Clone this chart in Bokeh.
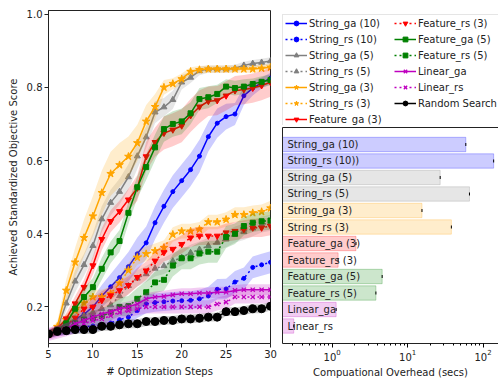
import math
from bokeh.plotting import figure
from bokeh.models import (Range1d, FixedTicker, NumeralTickFormatter, Legend, LegendItem,
                          LinearAxis)
from bokeh.layouts import row, column
from bokeh.embed import file_html
from bokeh.resources import INLINE
from bokeh.core.properties import value

FONT = "DejaVu Sans"

# ---------------- data: optimisation curves (steps 5..30) ----------------
steps = list(range(5, 31))

sga10 = [0.125, 0.135, 0.15, 0.165, 0.18, 0.2, 0.23, 0.255, 0.28, 0.31, 0.345, 0.375, 0.43, 0.475, 0.515, 0.545, 0.575, 0.612, 0.665, 0.702, 0.72, 0.727, 0.777, 0.798, 0.812, 0.825]
sga10_sd = [0.01, 0.01, 0.012, 0.015, 0.02, 0.025, 0.03, 0.035, 0.04, 0.04, 0.045, 0.045, 0.045, 0.045, 0.045, 0.045, 0.045, 0.045, 0.04, 0.04, 0.035, 0.03, 0.025, 0.02, 0.015, 0.015]
srs10 = [0.125, 0.133, 0.138, 0.142, 0.145, 0.148, 0.152, 0.156, 0.165, 0.172, 0.19, 0.208, 0.212, 0.214, 0.216, 0.217, 0.218, 0.222, 0.23, 0.248, 0.249, 0.268, 0.278, 0.308, 0.315, 0.322]
srs10_sd = [0.01, 0.012, 0.015, 0.015, 0.015, 0.015, 0.015, 0.015, 0.018, 0.02, 0.02, 0.025, 0.025, 0.025, 0.025, 0.025, 0.025, 0.025, 0.025, 0.028, 0.028, 0.03, 0.03, 0.03, 0.03, 0.03]
sga5 = [0.125, 0.14, 0.21, 0.27, 0.315, 0.367, 0.44, 0.485, 0.515, 0.555, 0.612, 0.664, 0.732, 0.746, 0.766, 0.814, 0.827, 0.845, 0.85, 0.85, 0.85, 0.852, 0.86, 0.865, 0.868, 0.872]
sga5_sd = [0.01, 0.01, 0.02, 0.03, 0.03, 0.035, 0.035, 0.035, 0.035, 0.035, 0.035, 0.03, 0.03, 0.025, 0.025, 0.02, 0.015, 0.012, 0.01, 0.01, 0.01, 0.01, 0.01, 0.01, 0.01, 0.01]
srs5 = [0.125, 0.135, 0.15, 0.165, 0.175, 0.185, 0.195, 0.205, 0.23, 0.258, 0.278, 0.29, 0.305, 0.312, 0.325, 0.335, 0.348, 0.357, 0.367, 0.376, 0.385, 0.398, 0.405, 0.415, 0.425, 0.43]
srs5_sd = [0.01, 0.012, 0.015, 0.018, 0.02, 0.02, 0.02, 0.02, 0.022, 0.022, 0.022, 0.022, 0.022, 0.022, 0.022, 0.022, 0.022, 0.022, 0.022, 0.022, 0.022, 0.022, 0.022, 0.022, 0.022, 0.022]
sga3 = [0.125, 0.146, 0.245, 0.322, 0.389, 0.448, 0.512, 0.564, 0.588, 0.611, 0.648, 0.707, 0.747, 0.8, 0.81, 0.823, 0.843, 0.848, 0.85, 0.85, 0.85, 0.85, 0.85, 0.85, 0.852, 0.855]
sga3_sd = [0.01, 0.015, 0.03, 0.04, 0.05, 0.055, 0.06, 0.06, 0.06, 0.055, 0.05, 0.045, 0.035, 0.02, 0.015, 0.015, 0.012, 0.01, 0.01, 0.01, 0.01, 0.01, 0.01, 0.01, 0.01, 0.01]
srs3 = [0.125, 0.135, 0.165, 0.19, 0.21, 0.227, 0.227, 0.236, 0.265, 0.3, 0.335, 0.345, 0.353, 0.362, 0.398, 0.407, 0.407, 0.412, 0.432, 0.432, 0.439, 0.452, 0.452, 0.457, 0.46, 0.47]
srs3_sd = [0.01, 0.012, 0.015, 0.018, 0.02, 0.02, 0.02, 0.02, 0.02, 0.02, 0.02, 0.02, 0.02, 0.02, 0.02, 0.02, 0.02, 0.02, 0.02, 0.02, 0.02, 0.02, 0.02, 0.02, 0.02, 0.02]
fga3 = [0.125, 0.14, 0.168, 0.209, 0.254, 0.313, 0.385, 0.434, 0.461, 0.493, 0.525, 0.611, 0.65, 0.675, 0.684, 0.695, 0.723, 0.747, 0.762, 0.764, 0.777, 0.791, 0.794, 0.798, 0.805, 0.814]
fga3_sd = [0.01, 0.01, 0.015, 0.02, 0.02, 0.025, 0.03, 0.03, 0.03, 0.03, 0.035, 0.04, 0.04, 0.045, 0.045, 0.045, 0.045, 0.045, 0.04, 0.04, 0.04, 0.04, 0.04, 0.04, 0.04, 0.04]
frs3 = [0.125, 0.135, 0.15, 0.17, 0.195, 0.2, 0.218, 0.231, 0.245, 0.259, 0.281, 0.299, 0.326, 0.349, 0.358, 0.371, 0.389, 0.394, 0.394, 0.394, 0.403, 0.407, 0.412, 0.416, 0.416, 0.421]
frs3_sd = [0.01, 0.012, 0.015, 0.02, 0.022, 0.025, 0.025, 0.025, 0.025, 0.025, 0.025, 0.025, 0.025, 0.025, 0.025, 0.025, 0.025, 0.025, 0.025, 0.025, 0.025, 0.025, 0.025, 0.025, 0.025, 0.025]
fga5 = [0.125, 0.138, 0.155, 0.195, 0.227, 0.254, 0.304, 0.349, 0.38, 0.457, 0.527, 0.582, 0.636, 0.686, 0.7, 0.707, 0.729, 0.768, 0.773, 0.782, 0.802, 0.798, 0.802, 0.809, 0.815, 0.82]
fga5_sd = [0.01, 0.01, 0.015, 0.02, 0.025, 0.025, 0.03, 0.03, 0.03, 0.03, 0.03, 0.035, 0.035, 0.035, 0.035, 0.035, 0.03, 0.03, 0.03, 0.025, 0.02, 0.02, 0.02, 0.015, 0.015, 0.015]
frs5 = [0.125, 0.135, 0.145, 0.155, 0.165, 0.17, 0.175, 0.185, 0.2, 0.202, 0.222, 0.24, 0.267, 0.274, 0.313, 0.333, 0.333, 0.346, 0.351, 0.351, 0.391, 0.4, 0.421, 0.43, 0.434, 0.436]
frs5_sd = [0.01, 0.012, 0.015, 0.015, 0.018, 0.02, 0.02, 0.022, 0.025, 0.028, 0.03, 0.03, 0.03, 0.03, 0.03, 0.03, 0.03, 0.03, 0.03, 0.03, 0.03, 0.028, 0.025, 0.025, 0.025, 0.025]
lga = [0.125, 0.133, 0.14, 0.154, 0.163, 0.172, 0.181, 0.187, 0.195, 0.2, 0.208, 0.222, 0.227, 0.229, 0.233, 0.236, 0.236, 0.238, 0.238, 0.24, 0.24, 0.245, 0.247, 0.247, 0.247, 0.247]
lga_sd = [0.015, 0.015, 0.015, 0.015, 0.015, 0.015, 0.015, 0.015, 0.015, 0.015, 0.015, 0.015, 0.015, 0.015, 0.015, 0.015, 0.015, 0.015, 0.015, 0.015, 0.015, 0.015, 0.015, 0.015, 0.015, 0.015]
lrs = [0.125, 0.131, 0.138, 0.145, 0.154, 0.163, 0.167, 0.176, 0.185, 0.19, 0.195, 0.2, 0.2, 0.2, 0.2, 0.2, 0.2, 0.2, 0.2, 0.208, 0.213, 0.227, 0.227, 0.227, 0.227, 0.227]
lrs_sd = [0.018, 0.018, 0.018, 0.018, 0.018, 0.018, 0.018, 0.018, 0.018, 0.018, 0.018, 0.018, 0.018, 0.018, 0.018, 0.018, 0.018, 0.018, 0.018, 0.018, 0.018, 0.018, 0.018, 0.018, 0.018, 0.018]
rnd = [0.126, 0.133, 0.135, 0.138, 0.138, 0.138, 0.147, 0.147, 0.151, 0.154, 0.154, 0.16, 0.16, 0.163, 0.163, 0.167, 0.167, 0.169, 0.172, 0.172, 0.187, 0.187, 0.19, 0.195, 0.195, 0.202]
rnd_sd = [0.012, 0.012, 0.012, 0.012, 0.012, 0.012, 0.012, 0.012, 0.012, 0.012, 0.012, 0.012, 0.012, 0.012, 0.012, 0.012, 0.012, 0.012, 0.012, 0.012, 0.012, 0.012, 0.012, 0.012, 0.012, 0.012]

# ---------------- data: computational overhead (secs) ----------------
overhead_labels = ["String_ga (10)", "String_rs (10))", "String_ga (5)", "String_rs (5)",
                   "String_ga (3)", "String_rs (3)", "Feature_ga (3)", "Feature_rs (3)",
                   "Feature_ga (5)", "Feature_rs (5)", "Linear_ga", "Linear_rs"]
overhead_secs = [59, 138, 27, 66, 15.5, 38, 2.07, 1.2, 4.6, 3.8, 1.13, 0.31]

BLUE, GRAY, ORANGE, RED, GREEN, MAG, BLACK = "#0000ff", "#808080", "#ffa500", "#ff0000", "#008000", "#bf00bf", "#000000"
overhead_colors = [BLUE, BLUE, GRAY, GRAY, ORANGE, ORANGE, RED, RED, GREEN, GREEN, MAG, MAG]

series = [
    ("String_ga (10)", sga10, sga10_sd, BLUE, "solid", "circle", 4),
    ("String_rs (10)", srs10, srs10_sd, BLUE, "dotted", "circle", 4),
    ("String_ga (5)", sga5, sga5_sd, GRAY, "solid", "triangle", 6),
    ("String_rs (5)", srs5, srs5_sd, GRAY, "dotted", "triangle", 6),
    ("String_ga (3)", sga3, sga3_sd, ORANGE, "solid", "star", 8),
    ("String_rs (3)", srs3, srs3_sd, ORANGE, "dotted", "star", 8),
    ("Feature_ga (3)", fga3, fga3_sd, RED, "solid", "inverted_triangle", 6),
    ("Feature_rs (3)", frs3, frs3_sd, RED, "dotted", "inverted_triangle", 6),
    ("Feature_ga (5)", fga5, fga5_sd, GREEN, "solid", "square", 5),
    ("Feature_rs (5)", frs5, frs5_sd, GREEN, "dotted", "square", 5),
    ("Linear_ga", lga, lga_sd, MAG, "solid", "x", 6),
    ("Linear_rs", lrs, lrs_sd, MAG, "dotted", "x", 6),
    ("Random Search", rnd, rnd_sd, BLACK, "solid", "circle", 8),
]

# ---------------- main figure ----------------
p = figure(width=278, height=383, x_range=Range1d(5, 30), y_range=Range1d(0.1, 1.01),
           output_backend="svg", toolbar_location=None,
           min_border_left=48, min_border_right=8, min_border_top=10, min_border_bottom=40)
p.xgrid.visible = False
p.ygrid.visible = False
p.outline_line_color = "#222222"
p.outline_line_width = 1

for ax in (p.xaxis[0], p.yaxis[0]):
    ax.major_label_text_font = FONT
    ax.major_label_text_font_size = "10px"
    ax.major_label_text_color = "#222222"
    ax.axis_label_text_font = FONT
    ax.axis_label_text_font_size = "10px"
    ax.axis_label_text_font_style = "normal"
    ax.axis_label_text_color = "#222222"
    ax.major_tick_in = 0
    ax.major_tick_out = 4
    ax.minor_tick_line_color = None
    ax.axis_line_color = "#222222"
    ax.major_tick_line_color = "#222222"

p.xaxis.ticker = FixedTicker(ticks=[5, 10, 15, 20, 25, 30])
p.yaxis.ticker = FixedTicker(ticks=[0.2, 0.4, 0.6, 0.8, 1.0])
p.yaxis.formatter = NumeralTickFormatter(format="0.0")
p.xaxis.axis_label = "# Optimization Steps"
p.yaxis.axis_label = "Achieved Standardized Objective Score"
p.xaxis.major_label_standoff = 2
p.xaxis.axis_label_standoff = 5
p.yaxis.major_label_standoff = 2
p.yaxis.axis_label_standoff = 5

# ---------------- legend figure (holds off-screen copies for the legend) ----------------
lf = figure(width=220, height=125, x_range=Range1d(-10, -9), y_range=Range1d(0, 1),
            output_backend="svg", toolbar_location=None,
            min_border_left=0, min_border_right=0, min_border_top=14, min_border_bottom=0)
lf.axis.visible = False
lf.xgrid.visible = False
lf.ygrid.visible = False
lf.outline_line_color = None

items = []
for label, mean, sd, color, dash, marker, msize in series:
    lo = [m - s for m, s in zip(mean, sd)]
    hi = [m + s for m, s in zip(mean, sd)]
    ldash = "solid" if dash == "solid" else "2 3"
    p.varea(x=steps, y1=lo, y2=hi, fill_color=color, fill_alpha=0.2)
    p.line(steps, mean, line_color=color, line_width=1.5, line_dash=ldash)
    p.scatter(steps, mean, marker=marker, size=msize, fill_color=color, line_color=color,
              line_width=1.3 if marker == "x" else 1)
    r1 = lf.line(steps, mean, line_color=color, line_width=1.5, line_dash=ldash)
    r2 = lf.scatter(steps, mean, marker=marker, size=msize, fill_color=color, line_color=color,
                    line_width=1.3 if marker == "x" else 1)
    items.append(LegendItem(label=label, renderers=[r1, r2]))

legend = Legend(items=items, location="top_left", ncols=2, margin=0, padding=2,
                spacing=4, label_text_font=FONT, label_text_font_size="10px",
                label_text_color="#222222", label_height=12, glyph_height=12,
                glyph_width=22, label_standoff=2, label_width=81,
                border_line_color="#cccccc", border_line_width=1,
                background_fill_color="white", background_fill_alpha=0.8)
lf.add_layout(legend)

# ---------------- inset: computational overhead ----------------
q = figure(width=220, height=258, x_axis_type="log", x_range=Range1d(0.22, 160),
           y_range=Range1d(12.06, -1.03), output_backend="svg", toolbar_location=None,
           min_border_left=4, min_border_right=0, min_border_top=2, min_border_bottom=40)
q.xgrid.visible = False
q.ygrid.visible = False
q.outline_line_color = None
idx = list(range(len(overhead_labels)))
q.hbar(y=idx, left=1e-3, right=overhead_secs, height=0.87, fill_color=overhead_colors,
       fill_alpha=0.2, line_color=overhead_colors, line_alpha=0.25, line_width=1)
q.scatter(x=overhead_secs, y=idx, marker="dash", angle=math.pi / 2, size=3,
          line_color="black", line_width=1)
q.text(x=[q.x_range.start] * len(idx), y=idx, text=overhead_labels, x_offset=5,
       text_baseline="middle", text_align="left", text_font=value(FONT),
       text_font_size="10px", text_color="#222222")

xa = q.xaxis[0]
xa.axis_label = "Compuational Overhead (secs)"
xa.axis_label_text_font = FONT
xa.axis_label_text_font_size = "10px"
xa.axis_label_text_font_style = "normal"
xa.axis_label_text_color = "#222222"
xa.major_label_text_font = FONT
xa.major_label_text_font_size = "10px"
xa.major_label_text_color = "#222222"
xa.major_tick_in = 0
xa.major_tick_out = 4
xa.minor_tick_in = 0
xa.minor_tick_out = 2
xa.axis_line_color = "#222222"
xa.major_label_standoff = 1
xa.axis_label_standoff = 3

ya = q.yaxis[0]
ya.ticker = FixedTicker(ticks=[])
ya.major_tick_out = 0
ya.major_tick_in = 0
ya.minor_tick_line_color = None
ya.major_label_standoff = 0
ya.axis_line_color = "#222222"

top = LinearAxis(ticker=FixedTicker(ticks=[]), major_tick_out=0, major_tick_in=0,
                 major_label_standoff=0, minor_tick_line_color=None, axis_line_color="#222222")
q.add_layout(top, "above")

layout = row(p, column(lf, q))
open("out.html", "w").write(file_html(layout, INLINE))
